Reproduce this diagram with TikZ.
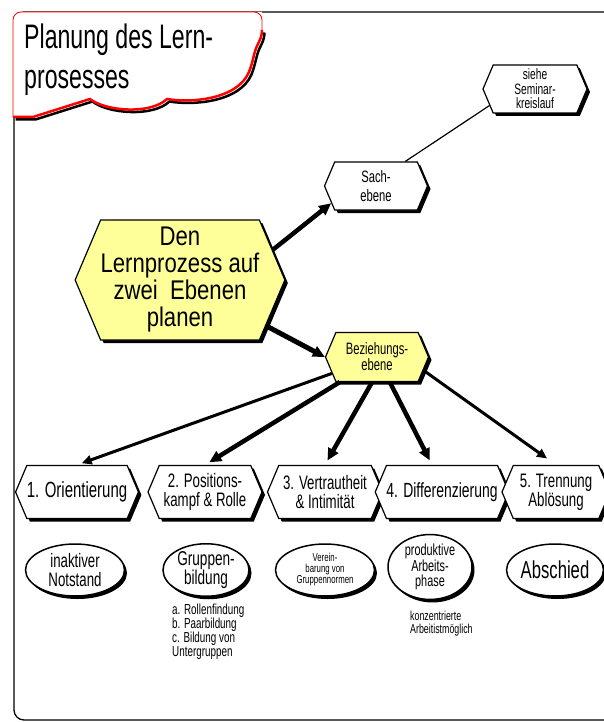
\documentclass[tikz,border=0pt]{standalone}
\usepackage{fontspec}
\setmainfont{Liberation Sans}[FakeStretch=0.68]
\newfontfamily\widefont{Liberation Sans}[FakeStretch=0.82]
\usetikzlibrary{shapes.symbols,shapes.geometric,shadows,arrows.meta}
\definecolor{paleyellow}{RGB}{255,255,153}
\newcommand{\fs}[2]{\fontsize{#1}{#2}\selectfont}
\newcommand{\wavyedge}{(13,117) -- (33,117) -- (90,99)
  .. controls (105,111) and (150,115) .. (167,99)
  .. controls (190,103) and (237,100) .. (249,72)
  .. controls (253,62) and (254,52) .. (257,46)
  .. controls (260,40) and (262,36) .. (262,30)}

\begin{document}
\begin{tikzpicture}[x=1pt, y=-1pt,
  hexa/.style={signal, signal to=west and east, signal pointer angle=134,
    draw, line width=1.2pt, inner sep=0pt, fill=white, align=center,
    drop shadow={shadow xshift=3pt, shadow yshift=-3pt, opacity=1, fill=black}},
  oval/.style={ellipse, draw, line width=1.5pt, inner sep=0pt, fill=white, align=center,
    drop shadow={shadow xshift=2.5pt, shadow yshift=-3pt, opacity=1, fill=black}},
  fatarrow/.style={line width=4.5pt, -{Triangle[length=12pt, width=11pt]}},
  slimarrow/.style={line width=3pt, -{Triangle[length=10pt, width=9pt]}}]

        \useasboundingbox (0,0) rectangle (603,722);

        % frame and title
        \draw[line width=1.3pt, rounded corners=10pt] (14,12) rectangle (640,720);
        \fill[white] \wavyedge -- (262,12) -- (13,12) -- cycle;
        \draw[black, line width=2.5pt, shift={(2.5,2.5)}] \wavyedge;
        \draw[red, line width=2.5pt] \wavyedge;
        \draw[red, line width=0.8pt, rounded corners=8pt] (13,117) -- (13,12) -- (262,12) -- (262,30);
        \node (title) at (24,24) [anchor=north west, inner sep=0pt, align=left, font=\fs{34}{40}]
          {Planung des Lern-\\prosesses};

        % levels
        \node (main) at (180,280) [hexa, fill=paleyellow, minimum width=201pt, minimum height=120pt,
          font=\widefont\fs{27}{27}] {Den\\Lernprozess auf\\zwei~~Ebenen\\planen};
        \node (sach) at (376,186) [hexa, minimum width=103pt, minimum height=48pt,
          font=\fs{16.5}{19}] {Sach-\\ebene};
        \node (seminar) at (535,89) [hexa, minimum width=104pt, minimum height=48pt,
          font=\fs{15}{14.5}] {siehe\\Seminar-\\kreislauf};
        \node (bez) at (377,357) [hexa, fill=paleyellow, minimum width=103pt, minimum height=49pt,
          font=\fs{16.5}{16}] {Beziehungs-\\ebene};

        \draw[line width=1.2pt] (sach.40) -- (seminar.200);
        \draw[fatarrow] (main.18) -- (sach.201);
        \draw[fatarrow, line width=5pt] (main.332) -- (bez.west);

        % phases
        \node (ph1) at (77,492) [hexa, minimum width=111pt, minimum height=53pt,
          font=\fs{22}{19}] {1. Orientierung};
        \node (ph2) at (205,492) [hexa, minimum width=114pt, minimum height=53pt,
          font=\fs{19.5}{19}] {2. Positions-\\kampf \& Rolle};
        \node (ph3) at (325,492) [hexa, minimum width=115pt, minimum height=53pt,
          font=\fs{19.5}{19}] {3. Vertrautheit\\\& Intimität};
        \node (ph4) at (442,492) [hexa, minimum width=118pt, minimum height=53pt,
          font=\fs{20.5}{19}] {4. Differenzierung};
        \node (ph5) at (556,492) [hexa, minimum width=108pt, minimum height=53pt,
          font=\fs{19.5}{19}] {5. Trennung\\Ablösung};

        \draw[slimarrow, shorten >=5pt] (bez.200) -- (ph1.north);
        \draw[fatarrow, shorten >=5pt] (bez.214) -- (ph2.north);
        \draw[fatarrow, shorten >=5pt] (bez.259) -- (ph3.north);
        \draw[fatarrow, shorten >=5pt] (bez.297) -- (ph4.110);
        \draw[slimarrow, shorten >=11pt] (bez.344) -- (ph5.north);

        % results
        \node (res1) at (75,570) [oval, minimum width=99pt, minimum height=52pt,
          font=\fs{19.5}{19}] {inaktiver\\Notstand};
        \node (res2) at (206,570) [oval, minimum width=86pt, minimum height=52pt,
          font=\fs{20}{19}] {Gruppen-\\bildung};
        \node (res3) at (325,570) [oval, minimum width=99pt, minimum height=52pt,
          font=\fs{11.5}{11}] {Verein-\\barung von\\Gruppennormen};
        \node (res4) at (430,567) [oval, minimum width=84pt, minimum height=57pt,
          font=\fs{16}{15.5}] {produktive\\Arbeits-\\phase};
        \node (res5) at (555,570) [oval, minimum width=85pt, minimum height=52pt,
          font=\fs{24.5}{22}] {Abschied};

        \node (roles) at (172,604) [anchor=north west, inner sep=0pt, align=left, font=\fs{14.5}{13.8}]
          {a. Rollenfindung\\b. Paarbildung\\c. Bildung von\\Untergruppen};
        \node (work) at (410,611) [anchor=north west, inner sep=0pt, align=left, font=\fs{13}{12.8}]
          {konzentrierte\\Arbeitistmöglich};

\end{tikzpicture}
\end{document}
